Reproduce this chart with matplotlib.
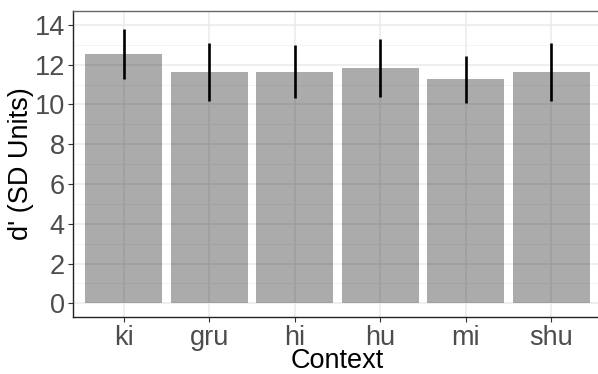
import numpy as np
import matplotlib
matplotlib.use("Agg")
import matplotlib.pyplot as plt

# Mean d' per context, with the lower/upper ends of the error bars
contexts = ["ki", "gru", "hi", "hu", "mi", "shu"]
d_prime = [12.53, 11.62, 11.62, 11.82, 11.27, 11.62]
ci_low = [11.27, 10.18, 10.32, 10.38, 10.07, 10.18]
ci_high = [13.77, 13.08, 12.98, 13.28, 12.43, 13.07]

plt.rcParams["font.family"] = ["Liberation Sans", "DejaVu Sans"]

fig = plt.figure(figsize=(5.98, 3.74), dpi=100)
# panel runs a little past the right edge of the figure
ax = fig.add_axes([72.5 / 598, 1 - 317 / 374, (602.5 - 72.5) / 598, (317 - 11) / 374])

x = np.arange(1, len(contexts) + 1)

# grid first, bars drawn semi-transparent on top of it
ax.set_axisbelow(True)
ax.set_yticks(np.arange(0, 15, 2))
ax.set_yticks(np.arange(1, 15, 2), minor=True)
ax.set_xticks(x)
ax.set_xticklabels(contexts)
ax.grid(True, which="major", color="#EBEBEB", linewidth=1.1)
ax.grid(True, which="minor", axis="y", color="#F3F3F3", linewidth=0.6)

ax.bar(x, d_prime, width=0.9, color="black", alpha=0.33, zorder=2)
ax.vlines(x, ci_low, ci_high, color="black", linewidth=1.9, zorder=3)

ax.set_xlim(0.4, 6.6)
ax.set_ylim(-0.69, 14.7)

ax.tick_params(axis="both", which="major", labelsize=19.5, labelcolor="#4D4D4D",
               color="#333333", length=3.5, width=0.8, pad=2)
ax.tick_params(axis="y", which="minor", length=0)

for side in ["left", "bottom"]:
    ax.spines[side].set_color("#222222")
    ax.spines[side].set_linewidth(1.0)
ax.spines["top"].set_color("#666666")
ax.spines["top"].set_linewidth(1.0)
ax.spines["right"].set_visible(False)

ax.set_xlabel("Context", fontsize=19.5, labelpad=-2)
ax.set_ylabel("d' (SD Units)", fontsize=19.5, labelpad=0)

fig.savefig("out.png", dpi=100)
